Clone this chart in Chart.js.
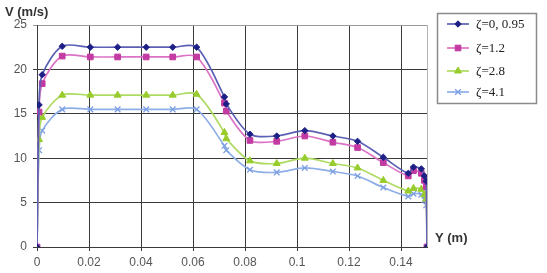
<!DOCTYPE html>
<html>
<head>
<meta charset="utf-8">
<script src="https://cdn.jsdelivr.net/npm/chart.js@4.4.1/dist/chart.umd.min.js"></script>
<style>
  html, body { margin: 0; padding: 0; background: #fff; }
  #wrap { width: 547px; height: 273px; position: relative; }
</style>
</head>
<body>
<div id="wrap"><canvas id="myChart" width="547" height="273"></canvas></div>
<script>
// data
const positions = [0, 0.0008, 0.002, 0.0097, 0.0205, 0.031, 0.042, 0.0522, 0.0614, 0.0721, 0.0728, 0.0819, 0.0922, 0.103, 0.1138, 0.1233, 0.1332, 0.1428, 0.1448, 0.1478, 0.149, 0.1497, 0.15]
const zeta095 = [0, 16.0, 19.4, 22.6, 22.5, 22.5, 22.5, 22.5, 22.5, 16.9, 16.1, 12.7, 12.5, 13.1, 12.5, 11.9, 10.1, 8.3, 9.0, 8.8, 8.0, 7.4, 0]
const zeta12 = [0, 15.2, 18.4, 21.5, 21.4, 21.4, 21.4, 21.4, 21.4, 16.2, 15.3, 12.0, 11.9, 12.5, 11.8, 11.2, 9.5, 8.0, 8.6, 8.3, 7.5, 6.8, 0]
const zeta28 = [0, 12.1, 14.6, 17.1, 17.1, 17.1, 17.1, 17.1, 17.2, 12.9, 12.2, 9.7, 9.4, 10.0, 9.4, 8.9, 7.5, 6.3, 6.6, 6.5, 5.9, 5.4, 0]
const zeta41 = [0, 10.9, 13.1, 15.5, 15.5, 15.5, 15.5, 15.5, 15.5, 11.4, 10.9, 8.7, 8.4, 8.9, 8.5, 8.0, 6.7, 5.7, 6.0, 5.9, 5.3, 4.7, 0]
const seriesNames = ['ζ=0, 0.95', 'ζ=1.2', 'ζ=2.8', 'ζ=4.1']
const xTickValues = [0, 0.02, 0.04, 0.06, 0.08, 0.1, 0.12, 0.14]
const yTickValues = [0, 5, 10, 15, 20, 25]

const toPoints = vals => vals.map((v, i) => ({ x: positions[i], y: v }))

const lineColors = ['#5b60b4', '#dc72c6', '#aedb62', '#8eaee8']
const markColors = ['#1c1f85', '#c23aa2', '#98cc2c', '#7b9fe2']
const markStyles = ['rectRot', 'rect', 'triangle', 'crossRot']
const markSizes = [3.2, 4, 4, 4]

const datasets = [zeta095, zeta12, zeta28, zeta41].map((vals, i) => ({
    label: seriesNames[i],
    data: toPoints(vals),
    borderColor: lineColors[i],
    borderWidth: 1.7,
    pointStyle: markStyles[i],
    pointRadius: markSizes[i],
    pointBackgroundColor: markColors[i],
    pointBorderColor: markColors[i],
    pointBorderWidth: i === 3 ? 1.3 : 1,
    tension: 0.3,
    fill: false
}))

// axis titles + boxed legend
const extras = {
    id: 'extras',
    afterDraw(chart) {
        const c = chart.ctx
        c.save()
        c.fillStyle = '#333'
        c.font = 'bold 13px "Liberation Sans", Arial, sans-serif'
        c.textBaseline = 'middle'
        c.textAlign = 'left'
        c.fillText('V (m/s)', 5, 12)
        c.fillText('Y (m)', 435, 238)

        // legend box
        c.strokeStyle = '#8a8a8a'
        c.lineWidth = 1.5
        c.strokeRect(437.5, 13.5, 99, 90)
        const rows = [24, 48, 71, 92]
        c.font = '13px "Liberation Serif", "Times New Roman", serif'
        chart.data.datasets.forEach((ds, i) => {
            const y = rows[i]
            c.strokeStyle = ds.borderColor
            c.lineWidth = ds.borderWidth
            c.beginPath()
            c.moveTo(447, y)
            c.lineTo(469, y)
            c.stroke()
            c.fillStyle = ds.pointBackgroundColor
            c.strokeStyle = ds.pointBorderColor
            c.lineWidth = ds.pointBorderWidth
            Chart.helpers.drawPoint(c, {
                pointStyle: ds.pointStyle,
                radius: ds.pointRadius,
                borderWidth: ds.pointBorderWidth,
                rotation: 0
            }, 458, y)
            c.fillStyle = '#222'
            c.fillText(ds.label, 476, y + 1)
        })

        // right border of plot
        const a = chart.chartArea
        c.strokeStyle = '#b5b5b5'
        c.lineWidth = 1
        c.beginPath()
        c.moveTo(Math.round(a.right) + 0.5, a.top)
        c.lineTo(Math.round(a.right) + 0.5, a.bottom)
        c.stroke()
        c.restore()
    }
}

const ctx = document.getElementById('myChart').getContext('2d')

const myChart = new Chart(ctx, {
    type: 'line',
    data: { datasets: datasets },
    options: {
        responsive: false,
        animation: false,
        layout: { padding: { top: 25, right: 120, left: 0, bottom: 0 } },
        plugins: {
            legend: { display: false },
            tooltip: { enabled: false }
        },
        scales: {
            x: {
                type: 'linear',
                min: 0,
                max: 0.15,
                afterBuildTicks: s => { s.ticks = xTickValues.map(v => ({ value: v })) },
                afterFit: s => { s.height = 26 },
                grid: { color: '#3a3a3a', tickLength: 4, lineWidth: 1 },
                border: { color: '#3a3a3a' },
                ticks: {
                    color: '#555',
                    padding: 4,
                    maxRotation: 0,
                    font: { family: '"Liberation Sans", Arial, sans-serif', size: 12 },
                    callback: v => String(v)
                }
            },
            y: {
                min: 0,
                max: 25,
                afterBuildTicks: s => { s.ticks = yTickValues.map(v => ({ value: v })) },
                afterFit: s => { s.width = 37 },
                grid: {
                    color: c => c.tick && c.tick.value === 25 ? '#9a9a9a' : '#3a3a3a',
                    tickLength: 4,
                    lineWidth: 1
                },
                border: { color: '#3a3a3a' },
                ticks: {
                    color: '#555',
                    padding: 6,
                    font: { family: '"Liberation Sans", Arial, sans-serif', size: 12 }
                }
            }
        }
    },
    plugins: [extras]
})
</script>
</body>
</html>
